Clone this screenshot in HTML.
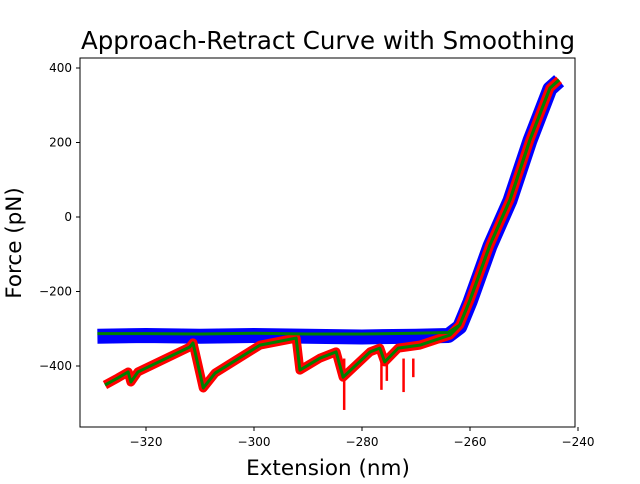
<!DOCTYPE html>
<html><head><meta charset="utf-8"><style>
body{margin:0;background:#fff;font-family:"DejaVu Sans","Liberation Sans",sans-serif}
</style></head><body>
<svg id="chart" width="640" height="480" xmlns="http://www.w3.org/2000/svg" font-family="DejaVu Sans, Liberation Sans, sans-serif">
<rect width="640" height="480" fill="#fff"/>
<text x="328" y="49" text-anchor="middle" font-size="24.5">Approach-Retract Curve with Smoothing</text>
<g id="plot"></g>
<rect x="80" y="58" width="495" height="369" fill="none" stroke="#000" stroke-width="1"/>
<g id="ticks"></g>
<text x="328" y="475" text-anchor="middle" font-size="21.5">Extension (nm)</text>
<text transform="translate(21,243) rotate(-90)" text-anchor="middle" font-size="21.5">Force (pN)</text>
</svg>
<script>
const xTicks=[-320,-300,-280,-260,-240];
const yTicks=[-400,-200,0,200,400];
const approachX=[-329,-320,-310,-300,-290,-280,-270,-264,-261.9,-260,-256.3,-252.6,-248.9,-245.2,-243.5];
const approachY=[-320,-318,-320,-318,-320,-322,-320,-318,-295,-228,-78,44,205,344,366];
const approachSmoothY=[-313,-313,-314,-312,-314,-314,-312,-310,-290,-223,-75,46,207,346,368];
const retractX=[-327.6,-325.2,-323.3,-322.8,-321.5,-311.9,-311.3,-310.7,-309.4,-307.2,-298.9,-292.2,-291.5,-287.8,-284.8,-283.5,-278.5,-276.7,-275.8,-273.3,-269.3,-263.7,-261.9,-260,-256.3,-252.6,-248.9,-245.2,-243.5];
const retractY=[-451,-432,-416,-443,-416,-349,-338,-376,-459,-419,-344,-325,-411,-379,-362,-430,-362,-352,-389,-352,-344,-317,-290,-223,-75,46,207,346,368];
const spikeX=[-283.3,-276.4,-275.4,-272.3,-270.5];
const spikeY=[-518,-464,-440,-470,-430];
const xs=v=>470+(v+260)*5.4;
const ys=v=>217-v*0.3725;
const NS="http://www.w3.org/2000/svg";
const plot=document.getElementById('plot');
const ticks=document.getElementById('ticks');
function line(xa,ya,color,w,name){
  const p=document.createElementNS(NS,'polyline');
  p.setAttribute('points',xa.map((x,i)=>xs(x)+','+ys(ya[i])).join(' '));
  p.setAttribute('fill','none');p.setAttribute('stroke',color);
  p.setAttribute('stroke-width',w);p.setAttribute('stroke-linejoin','round');
  
  
  plot.appendChild(p);
}
line(approachX,approachY,'#0000ff',15,'approach-series');
line(retractX,retractY,'#ff0000',9,'retract-series');
spikeX.forEach((x,i)=>{
  const l=document.createElementNS(NS,'line');
  l.setAttribute('x1',xs(x));l.setAttribute('x2',xs(x));
  l.setAttribute('y1',ys(-380));l.setAttribute('y2',ys(spikeY[i]));
  l.setAttribute('stroke','#ff0000');l.setAttribute('stroke-width',2.5);
  
  
  plot.appendChild(l);
});
line(approachX,approachSmoothY,'#008000',3,'approach-smoothed');
line(retractX,retractY,'#008000',3,'retract-smoothed');
xTicks.forEach(v=>{
  const t=document.createElementNS(NS,'line');
  t.setAttribute('x1',xs(v));t.setAttribute('x2',xs(v));t.setAttribute('y1',427);t.setAttribute('y2',431);t.setAttribute('stroke','#000');
  
  
  ticks.appendChild(t);
  const s=document.createElementNS(NS,'text');
  s.setAttribute('x',xs(v));s.setAttribute('y',446);s.setAttribute('text-anchor','middle');s.setAttribute('font-size','12');
  s.textContent='\u2212'+Math.abs(v);
  
  
  ticks.appendChild(s);
});
yTicks.forEach(v=>{
  const t=document.createElementNS(NS,'line');
  t.setAttribute('x1',76);t.setAttribute('x2',80);t.setAttribute('y1',ys(v));t.setAttribute('y2',ys(v));t.setAttribute('stroke','#000');
  
  
  ticks.appendChild(t);
  const s=document.createElementNS(NS,'text');
  s.setAttribute('x',72);s.setAttribute('y',ys(v)+4);s.setAttribute('text-anchor','end');s.setAttribute('font-size','12');
  s.textContent=v<0?'\u2212'+Math.abs(v):String(v);
  
  
  ticks.appendChild(s);
});
</script>
</body></html>
